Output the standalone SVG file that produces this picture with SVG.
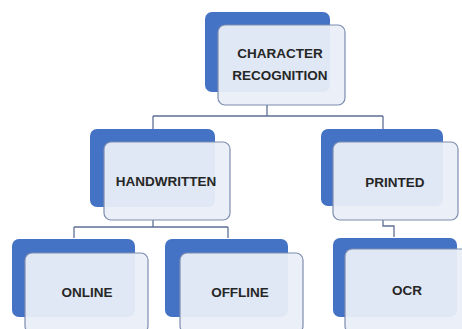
<svg xmlns="http://www.w3.org/2000/svg" width="462" height="329" viewBox="0 0 462 329">
<style>
.back{fill:#4472c4;}
.front{fill:#e9eef8;fill-opacity:0.95;stroke:#7d8db0;stroke-width:1.2;}
.lbl{font-family:"Liberation Sans",Arial,sans-serif;font-weight:bold;font-size:13.5px;fill:#262626;text-anchor:middle;}
.conn{fill:none;stroke:#5f7096;stroke-width:1.3;}
</style>
<rect width="462" height="329" fill="#ffffff"/>
<g id="connectors">
<path class="conn" d="M267 105 V116 M153 116 H383 M153 116 V130 M383 116 V129"/>
<path class="conn" d="M153 220 V227 M74 227 H228 M74 227 V238 M228 227 V238"/>
<path class="conn" d="M383 220 V226 H394 V237"/>
</g>
<g id="character-recognition">
<rect class="back" x="205" y="12" width="125" height="80" rx="7"/>
<rect class="front" x="218" y="25" width="127" height="80" rx="7"/>
<text class="lbl" x="280" y="58">CHARACTER</text>
<text class="lbl" x="280" y="80">RECOGNITION</text>
</g>
<g id="handwritten">
<rect class="back" x="90" y="129" width="125" height="78" rx="7"/>
<rect class="front" x="104" y="142" width="126" height="78" rx="7"/>
<text class="lbl" x="166" y="186">HANDWRITTEN</text>
</g>
<g id="printed">
<rect class="back" x="321" y="129" width="122" height="77" rx="7"/>
<rect class="front" x="333" y="142" width="125" height="78" rx="7"/>
<text class="lbl" x="395" y="187">PRINTED</text>
</g>
<g id="online">
<rect class="back" x="12" y="239" width="123" height="78" rx="7"/>
<rect class="front" x="25" y="253" width="123" height="80" rx="7"/>
<text class="lbl" x="87" y="297">ONLINE</text>
</g>
<g id="offline">
<rect class="back" x="165" y="239" width="123" height="78" rx="7"/>
<rect class="front" x="180" y="253" width="123" height="80" rx="7"/>
<text class="lbl" x="240" y="297">OFFLINE</text>
</g>
<g id="ocr">
<rect class="back" x="333" y="238" width="124" height="79" rx="7"/>
<rect class="front" x="345" y="249" width="125" height="84" rx="7"/>
<text class="lbl" x="407" y="295">OCR</text>
</g>
</svg>
